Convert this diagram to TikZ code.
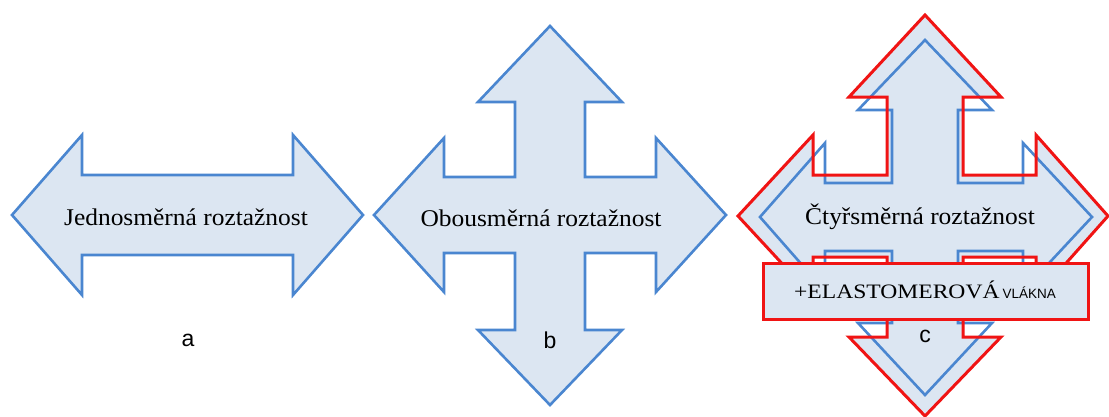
\documentclass[tikz,border=0pt]{standalone}
\usepackage{fontspec}
\setmainfont{Liberation Serif}
\newfontfamily\sansf{Liberation Sans}
\usepackage{graphicx}
\definecolor{fillblue}{RGB}{220,230,242}
\definecolor{lineblue}{RGB}{74,134,208}
\definecolor{linered}{RGB}{240,20,20}
\tikzset{
  shapeblue/.style={draw=lineblue,line width=2.6pt,fill=fillblue,line join=miter},
  outlineblue/.style={draw=lineblue,line width=2.6pt,line join=miter},
  shapered/.style={draw=linered,line width=3pt,line join=miter},
  shapefill/.style={fill=fillblue},
  maintext/.style={inner sep=0pt,font=\fontsize{24}{26}\selectfont},
  lbl/.style={inner sep=0pt,font=\sansf\fontsize{23}{26}\selectfont},
  redbox/.style={draw=linered,line width=3pt,fill=fillblue}
}
\begin{document}
\begin{tikzpicture}[x=1pt,y=-1pt]
\useasboundingbox (0,0) rectangle (1109,416);
% ---- a ----
\begin{scope}[shift={(188,215)}]
\draw[shapeblue] (-176,0) -- (-106,-80) -- (-106,-40) -- (105,-40) -- (105,-80) -- (175,0)
  -- (105,80) -- (105,40) -- (-106,40) -- (-106,80) -- cycle;
\end{scope}
\node[maintext] (ta) at (186,217) {\scalebox{1.06}[1]{Jednosměrná roztažnost}};
\node[lbl] (la) at (188,340) {a};
% ---- b ----
\begin{scope}[shift={(550,215)}]
\draw[shapeblue] (0,-189) -- (72,-113) -- (35,-113) -- (35,-38) -- (106,-38) -- (106,-77) -- (176,0)
  -- (106,77) -- (106,38) -- (35,38) -- (35,115) -- (72,115) -- (0,190) -- (-72,115) -- (-35,115)
  -- (-35,38) -- (-106,38) -- (-106,77) -- (-176,0) -- (-106,-77) -- (-106,-38) -- (-35,-38)
  -- (-35,-113) -- (-72,-113) -- cycle;
\end{scope}
\node[maintext] (tb) at (541,218) {\scalebox{1.06}[1]{Obousměrná roztažnost}};
\node[lbl] (lb) at (550,340) {b};
% ---- c ----
\begin{scope}[shift={(925,216)}]
\fill[shapefill] (0,-201) -- (76,-119) -- (38,-119) -- (38,-41) -- (111,-41) -- (111,-81) -- (183,0)
  -- (111,81) -- (111,41) -- (38,41) -- (38,121) -- (76,121) -- (0,200) -- (-76,121) -- (-38,121)
  -- (-38,41) -- (-112,41) -- (-112,81) -- (-187,0) -- (-112,-81) -- (-112,-41) -- (-38,-41)
  -- (-38,-119) -- (-76,-119) -- cycle;
\end{scope}
\begin{scope}[shift={(925,217)}]
\draw[outlineblue] (0,-177) -- (67,-107) -- (33,-107) -- (33,-34) -- (98,-34) -- (98,-74) -- (167,0)
  -- (98,74) -- (98,34) -- (33,34) -- (33,106) -- (67,106) -- (0,178) -- (-67,106) -- (-33,106)
  -- (-33,34) -- (-100,34) -- (-100,74) -- (-165,0) -- (-100,-74) -- (-100,-34) -- (-33,-34)
  -- (-33,-107) -- (-67,-107) -- cycle;
\end{scope}
\begin{scope}[shift={(925,216)}]
\draw[shapered] (0,-201) -- (76,-119) -- (38,-119) -- (38,-41) -- (111,-41) -- (111,-81) -- (183,0)
  -- (111,81) -- (111,41) -- (38,41) -- (38,121) -- (76,121) -- (0,200) -- (-76,121) -- (-38,121)
  -- (-38,41) -- (-112,41) -- (-112,81) -- (-187,0) -- (-112,-81) -- (-112,-41) -- (-38,-41)
  -- (-38,-119) -- (-76,-119) -- cycle;
\end{scope}
\node[maintext] (tc) at (920,217) {\scalebox{1.06}[1]{Čtyřsměrná roztažnost}};
\node[redbox,minimum width=325pt,minimum height=56pt,inner sep=0pt] (box) at (925.5,291) {};
\node[inner sep=0pt] (tbox) at (925,290) {\scalebox{1.15}[1]{\fontsize{20.5}{22}\selectfont +ELASTOMEROVÁ}\hspace{3pt}{\sansf\fontsize{13.5}{15}\selectfont VLÁKNA}};
\node[lbl] (lc) at (925,336) {c};
\end{tikzpicture}
\end{document}
